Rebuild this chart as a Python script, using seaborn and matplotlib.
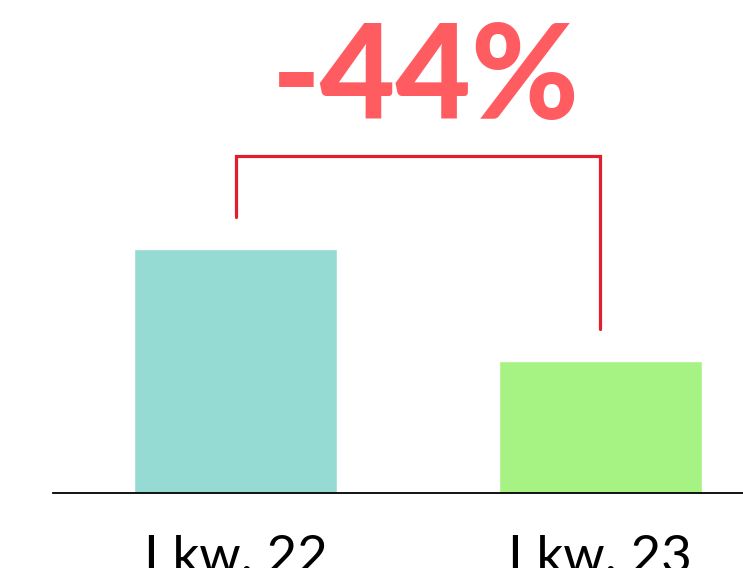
import matplotlib
matplotlib.use("Agg")
import matplotlib.pyplot as plt
import seaborn as sns
import pandas as pd

# data
quarters = ["I kw. 22", "I kw. 23"]
values = [100, 54]
bar_colors = ["#96dbd3", "#a6f283"]
change_label = "-44%"

df = pd.DataFrame({"quarter": quarters, "value": values})

sns.set_theme(style="white")
plt.rcParams["font.family"] = ["Lato", "DejaVu Sans"]

fig = plt.figure(figsize=(7.43, 5.68), dpi=100)
ax = fig.add_axes([53 / 743, 75 / 568, 690 / 743, 493 / 568])

sns.barplot(data=df, x="quarter", y="value", hue="quarter",
            palette=bar_colors, width=0.557, saturation=1, legend=False, ax=ax)

ax.set_xlim(-0.5007, 1.392)
ax.set_ylim(0, 202)
ax.set_xlabel("")
ax.set_ylabel("")
ax.set_yticks([])
sns.despine(ax=ax, left=True)
ax.spines["bottom"].set_color("black")
ax.spines["bottom"].set_linewidth(1.3)
ax.tick_params(axis="x", length=0, pad=30, labelsize=38, labelcolor="black")

# bracket showing the change
gap = 13
top = max(values) + 38
ax.plot([0, 0, 1, 1], [values[0] + gap, top, top, values[1] + gap],
        color="#e31e2b", lw=2.3, solid_joinstyle="miter", clip_on=False)

fig.text(426 / 743, 1 - 119 / 568, change_label, ha="center", va="baseline",
         fontsize=94, fontweight="black", color="#ff5c62")

fig.savefig("out.png", dpi=100)
